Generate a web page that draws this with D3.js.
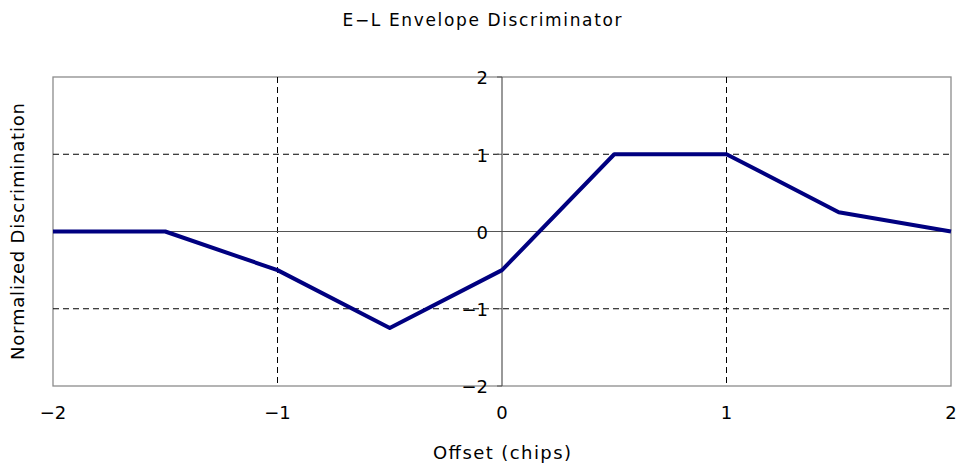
<!DOCTYPE html>
<html><head><meta charset="utf-8">
<script src="https://cdn.jsdelivr.net/npm/d3@7"></script>
<style>body{margin:0;background:#fff}svg{display:block}</style>
</head><body><svg id="c" width="962" height="466"></svg>
<script>
const offsets = [-2, -1.5, -1, -0.5, 0, 0.5, 1, 1.5, 2];
const values  = [0, 0, -0.5, -1.25, -0.5, 1, 1, 0.25, 0];
const xTicks = [-2, -1, 0, 1, 2];
const yTicks = [-2, -1, 0, 1, 2];
const title = "E\u2212L Envelope Discriminator";
const xTitle = "Offset (chips)";
const yTitle = "Normalized Discrimination";

const svg = d3.select("#c");
const font = "'DejaVu Sans', sans-serif";
const L = 53, R = 951, T = 77, B = 386;
const x = d3.scaleLinear().domain([-2, 2]).range([L, R]);
const y = d3.scaleLinear().domain([-2, 2]).range([B, T]);
const fmt = v => v < 0 ? "\u2212" + Math.abs(v) : String(v);

// border
svg.append("rect").attr("x", L).attr("y", T).attr("width", R - L).attr("height", B - T)
  .attr("fill", "none").attr("stroke", "#8c8c8c").attr("stroke-width", 1.3);

// dashed grid
svg.append("g").selectAll("line").data(xTicks.filter(v => v !== 0 && Math.abs(v) !== 2)).join("line")
  .attr("x1", d => x(d)).attr("x2", d => x(d)).attr("y1", T).attr("y2", B)
  .attr("stroke", "#000").attr("stroke-width", 1).attr("stroke-dasharray", "6,4");
svg.append("g").selectAll("line").data(yTicks.filter(v => v !== 0 && Math.abs(v) !== 2)).join("line")
  .attr("x1", L).attr("x2", R).attr("y1", d => y(d)).attr("y2", d => y(d))
  .attr("stroke", "#000").attr("stroke-width", 1).attr("stroke-dasharray", "6,4");

// zero axes
svg.append("line").attr("x1", L).attr("x2", R).attr("y1", y(0)).attr("y2", y(0))
  .attr("stroke", "#555").attr("stroke-width", 1.2);
svg.append("line").attr("x1", x(0)).attr("x2", x(0)).attr("y1", T).attr("y2", B)
  .attr("stroke", "#555").attr("stroke-width", 1.2);

// y tick labels near x=0 axis
svg.append("g").selectAll("text").data(yTicks).join("text")
  .attr("x", x(0) - 14).attr("y", d => y(d) + 1).attr("dy", "0.35em")
  .attr("text-anchor", "end").attr("font-family", font).attr("font-size", 18)
  .text(fmt);
svg.append("g").selectAll("line").data(yTicks).join("line")
  .attr("x1", x(0) - 5).attr("x2", x(0)).attr("y1", d => y(d)).attr("y2", d => y(d))
  .attr("stroke", "#555");

// x tick labels
svg.append("g").selectAll("text").data(xTicks).join("text")
  .attr("x", d => x(d)).attr("y", 413).attr("dy", "0.35em")
  .attr("text-anchor", "middle").attr("font-family", font).attr("font-size", 18)
  .text(fmt);

// line
svg.append("path").datum(offsets.map((o, i) => [o, values[i]]))
  .attr("d", d3.line().x(d => x(d[0])).y(d => y(d[1])))
  .attr("fill", "none").attr("stroke", "#000080").attr("stroke-width", 4)
  .attr("stroke-linejoin", "round");

// titles
svg.append("text").attr("x", 482).attr("y", 20).attr("dy", "0.35em").attr("text-anchor", "middle")
  .attr("font-family", font).attr("font-size", 17)
  .attr("textLength", 279).attr("lengthAdjust", "spacing").text(title);
svg.append("text").attr("x", 502).attr("y", 453).attr("dy", "0.35em").attr("text-anchor", "middle")
  .attr("font-family", font).attr("font-size", 18)
  .attr("textLength", 138).attr("lengthAdjust", "spacing").text(xTitle);
svg.append("text").attr("transform", `translate(18,${(T + B) / 2}) rotate(-90)`).attr("dy", "0.35em")
  .attr("text-anchor", "middle").attr("font-family", font).attr("font-size", 18)
  .attr("textLength", 257).attr("lengthAdjust", "spacing").text(yTitle);
</script></body></html>
